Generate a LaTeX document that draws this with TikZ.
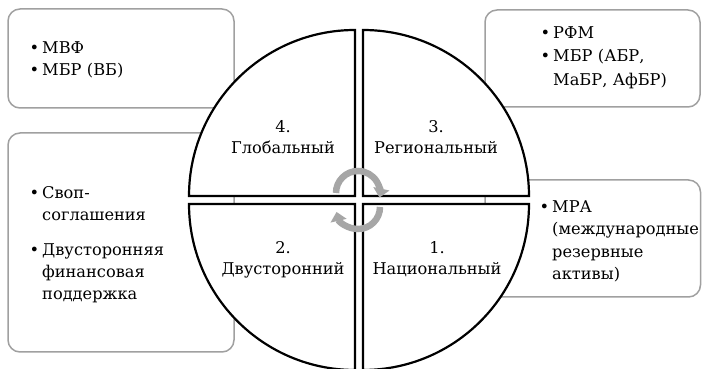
\documentclass[tikz,border=0pt]{standalone}
\usepackage{fontspec}
\setmainfont{DejaVu Serif}
\usetikzlibrary{arrows.meta}
\definecolor{boxgray}{RGB}{160,160,160}
\definecolor{arrgray}{RGB}{166,166,166}
\newcommand{\bitem}{\leavevmode\llap{\textbullet\hspace{3pt}}}
\begin{document}
\begin{tikzpicture}[x=1pt,y=1pt,
  infobox/.style={draw=boxgray, line width=1.5pt, rounded corners=12pt, fill=white},
  sector/.style={draw=black, line width=2.2pt, fill=white},
  boxtext/.style={anchor=base west, inner sep=0pt, text width=#1, align=left,
    font=\fontsize{16.2}{22.5}\selectfont},
  qlabel/.style={anchor=base, inner sep=0pt, text width=140pt, align=center,
    font=\fontsize{16.2}{21}\selectfont},
  cyc/.style={draw=arrgray, line width=6.5pt, -{Triangle[length=9pt,width=16pt]}}]
\useasboundingbox (0,0) rectangle (702,369);
% boxes behind
\draw[infobox] (8,261) rectangle (234,360);
\draw[infobox] (485,262) rectangle (700,359);
\draw[infobox] (8,17) rectangle (234,236);
\draw[infobox] (485,72) rectangle (700.5,189);
% sectors
\path[sector] (355,173) -- ++(90:166) arc[start angle=90, end angle=180, radius=166] -- cycle;
\path[sector] (363,173) -- ++(0:166) arc[start angle=0, end angle=90, radius=166] -- cycle;
\path[sector] (355,165) -- ++(180:166) arc[start angle=180, end angle=270, radius=166] -- cycle;
\path[sector] (363,165) -- ++(270:166) arc[start angle=270, end angle=360, radius=166] -- cycle;
% box texts
\node[boxtext=185pt, font=\fontsize{16.2}{22}\selectfont] (ta) at (42,315.5) {\bitem МВФ\\ \bitem МБР (ВБ)};
\node[boxtext=145pt, font=\fontsize{16.2}{23.5}\selectfont] (tb) at (553,330.5) {\bitem РФМ\\ \bitem МБР (АБР,\\ МаБР, АфБР)};
\node[boxtext=185pt, font=\fontsize{16.2}{22}\selectfont] (tc) at (42,170.5) {\bitem Своп-\\ соглашения\par\vspace{13pt}\bitem Двусторонняя\\ финансовая\\ поддержка};
\node[boxtext=150pt] (td) at (552,156.5) {\bitem МРА\\ (международные\\ резервные\\ активы)};
% quadrant labels
\node[qlabel] (q4) at (283,236.5) {4.\\ Глобальный};
\node[qlabel] (q3) at (436,236.5) {3.\\ Региональный};
\node[qlabel] (q2) at (283,115.5) {2.\\ Двусторонний};
\node[qlabel] (q1) at (437,115.5) {1.\\ Национальный};
% cycle arrows
\coordinate (cu) at (358,176);
\coordinate (cl) at (358,162);
\draw[cyc] ([shift={(180:22)}]cu) arc[start angle=180, end angle=-12, radius=22];
\draw[cyc] ([shift={(0:22)}]cl) arc[start angle=0, end angle=-167, radius=22];
\end{tikzpicture}
\end{document}
